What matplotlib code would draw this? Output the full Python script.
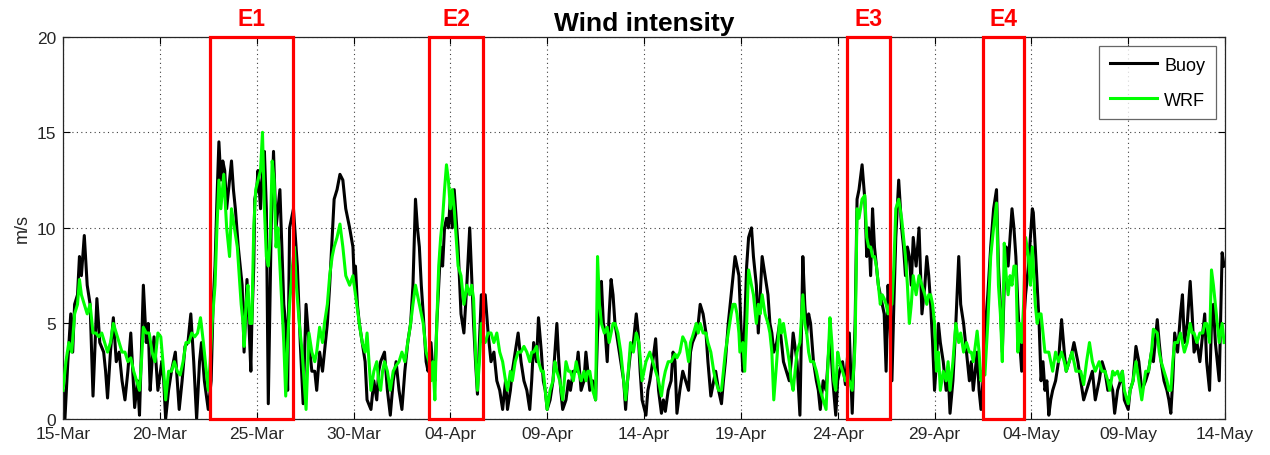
import matplotlib
matplotlib.use("Agg")
import matplotlib.pyplot as plt
from matplotlib.patches import Rectangle

plt.rcParams['font.family'] = ['Liberation Sans', 'DejaVu Sans']

# Time axis: days since 15-Mar
tick_days = [0, 5, 10, 15, 20, 25, 30, 35, 40, 45, 50, 55, 60]
tick_labels = ['15-Mar', '20-Mar', '25-Mar', '30-Mar', '04-Apr', '09-Apr', '14-Apr',
               '19-Apr', '24-Apr', '29-Apr', '04-May', '09-May', '14-May']

# Buoy observed wind speed (day, m/s)
buoy = [
    (0.0, 1.5), (0.1, 0.0), (0.25, 3), (0.4, 5.5), (0.5, 3.5), (0.6, 6), (0.75, 6.5), (0.85, 8.5),
    (0.95, 7.5), (1.1, 9.6), (1.25, 7), (1.4, 6), (1.55, 1.2), (1.7, 5), (1.75, 6.3), (1.9, 4),
    (2.1, 3.5), (2.2, 2.5), (2.3, 1.1), (2.45, 3.5), (2.6, 5.3), (2.75, 3), (2.9, 3.5), (3.05, 2),
    (3.2, 1), (3.35, 2.5), (3.5, 4.5), (3.6, 2.5), (3.7, 0.6), (3.85, 2), (3.95, 0.2), (4.15, 7),
    (4.3, 4), (4.4, 5), (4.5, 1.5), (4.6, 3), (4.7, 4.3), (4.8, 3), (4.9, 1.5), (5.1, 3),
    (5.2, 2), (5.3, 0), (5.45, 1.5), (5.6, 2.5), (5.8, 3.5), (5.9, 2), (6.0, 0.5), (6.15, 2),
    (6.3, 3.8), (6.45, 4), (6.6, 5.5), (6.75, 3), (6.9, 0), (7.05, 3), (7.15, 4), (7.3, 2),
    (7.5, 0.5), (7.65, 2), (7.75, 6), (7.85, 8), (7.95, 11.5), (8.05, 14.5), (8.15, 12.5),
    (8.25, 13.5), (8.35, 13), (8.45, 11), (8.6, 12.5), (8.7, 13.5), (8.8, 12), (8.9, 11),
    (9.05, 9), (9.15, 8), (9.25, 7), (9.35, 3.5), (9.5, 7.3), (9.6, 5), (9.7, 2.5), (9.75, 5),
    (9.85, 8), (9.9, 11.5), (10.0, 12), (10.07, 13), (10.2, 11), (10.3, 13), (10.4, 14),
    (10.5, 11), (10.6, 0.8), (10.7, 7), (10.75, 10), (10.87, 14), (11.0, 10), (11.1, 11),
    (11.2, 12), (11.3, 9), (11.4, 6), (11.5, 5), (11.6, 1.5), (11.7, 10), (11.8, 10.5),
    (11.9, 11), (12.0, 9.5), (12.1, 8), (12.25, 4), (12.4, 0.8), (12.55, 6), (12.7, 4),
    (12.85, 2.5), (13.0, 2.5), (13.1, 1.5), (13.25, 3.5), (13.4, 2.5), (13.5, 3.5), (13.65, 5),
    (13.77, 7), (13.9, 9.5), (14.0, 11.5), (14.15, 12), (14.3, 12.8), (14.45, 12.5), (14.6, 11),
    (14.7, 10.5), (14.8, 10), (14.97, 9), (15.05, 7), (15.1, 8), (15.2, 6), (15.3, 5),
    (15.45, 4), (15.6, 3), (15.7, 1), (15.9, 0.5), (16.05, 2), (16.2, 1), (16.3, 2.5), (16.4, 3),
    (16.6, 3.5), (16.75, 1.5), (16.9, 0.2), (17.05, 2), (17.2, 3), (17.35, 1.5), (17.5, 0.5),
    (17.65, 2.5), (17.8, 4), (17.95, 5), (18.07, 7), (18.2, 11.5), (18.3, 10), (18.4, 9),
    (18.5, 7), (18.6, 5.5), (18.75, 3), (18.85, 2.5), (19.0, 4), (19.1, 2.5), (19.2, 2),
    (19.3, 5), (19.4, 7), (19.5, 9), (19.6, 8), (19.7, 10), (19.8, 10.5), (19.9, 10),
    (20.0, 11.5), (20.1, 10), (20.2, 12), (20.3, 10.5), (20.4, 9), (20.55, 5.5), (20.7, 4.5),
    (20.85, 7), (21.0, 10), (21.1, 7.5), (21.2, 5), (21.3, 3), (21.4, 1.3), (21.5, 4),
    (21.6, 6.5), (21.8, 6.5), (21.95, 4.5), (22.1, 3), (22.25, 3.5), (22.4, 2), (22.55, 1.5),
    (22.7, 0.5), (22.85, 2), (22.95, 0.5), (23.1, 1.5), (23.2, 2.5), (23.35, 3.5), (23.5, 4.5),
    (23.65, 3), (23.8, 2), (23.95, 1.5), (24.1, 0.5), (24.2, 2), (24.3, 4), (24.45, 3),
    (24.55, 5.3), (24.7, 3.5), (24.8, 2), (24.9, 1.5), (25.0, 0.5), (25.15, 1), (25.3, 2),
    (25.4, 3.5), (25.5, 5), (25.6, 3), (25.7, 1.5), (25.8, 0.5), (25.97, 1), (26.1, 2),
    (26.2, 1.5), (26.35, 2.5), (26.5, 2.5), (26.6, 3.5), (26.75, 1.5), (26.9, 2), (27.0, 3.5),
    (27.1, 2.5), (27.2, 1.5), (27.35, 2), (27.5, 1), (27.6, 4.5), (27.7, 6), (27.8, 7.2),
    (27.9, 5), (28.0, 4.5), (28.1, 3), (28.2, 5.5), (28.3, 7.3), (28.4, 6.5), (28.5, 5),
    (28.65, 4), (28.8, 3), (28.95, 2), (29.05, 0.5), (29.15, 2), (29.3, 3.5), (29.45, 4),
    (29.6, 5.5), (29.7, 4.5), (29.8, 2.5), (29.9, 1), (30.1, 0.2), (30.2, 1.5), (30.3, 2),
    (30.45, 3), (30.6, 4.2), (30.75, 1.5), (30.9, 0.3), (31.0, 1), (31.1, 0.4), (31.25, 1.5),
    (31.4, 2), (31.5, 3.5), (31.6, 3), (31.7, 0.3), (31.85, 1.5), (32.0, 2.5), (32.15, 2),
    (32.3, 1.5), (32.4, 3.5), (32.5, 4), (32.7, 4.5), (32.8, 5), (32.9, 6), (33.05, 5.5),
    (33.2, 4.5), (33.3, 3), (33.45, 1.2), (33.6, 2), (33.7, 2.5), (33.85, 1.5), (34.0, 0.8),
    (34.1, 2), (34.2, 3), (34.35, 5), (34.5, 6.5), (34.6, 7.5), (34.7, 8.5), (34.8, 8),
    (34.9, 7.5), (35.0, 5), (35.1, 2.5), (35.2, 5), (35.3, 8), (35.4, 9.5), (35.55, 10),
    (35.65, 8.5), (35.8, 7), (35.9, 4.5), (36.0, 6.5), (36.1, 8.5), (36.25, 7.5), (36.4, 6.5),
    (36.5, 5), (36.6, 4.5), (36.7, 3.5), (36.85, 4), (37.0, 5), (37.1, 4), (37.2, 3),
    (37.35, 2.5), (37.5, 2), (37.6, 3), (37.7, 4.5), (37.9, 3), (38.05, 0.2), (38.2, 8.5),
    (38.3, 6), (38.4, 4.5), (38.5, 5.5), (38.6, 5), (38.75, 3), (38.9, 2), (39.0, 1.5),
    (39.1, 0.5), (39.25, 2), (39.4, 1.5), (39.5, 3), (39.6, 4.5), (39.75, 2), (39.9, 0.2),
    (40.0, 2), (40.1, 2.5), (40.25, 3), (40.4, 1.8), (40.6, 4.5), (40.75, 0.3), (40.9, 5),
    (41.0, 11.5), (41.1, 12), (41.26, 13.3), (41.4, 11.5), (41.5, 8.5), (41.6, 10), (41.7, 7.5),
    (41.8, 11), (41.9, 9), (42.0, 8), (42.1, 7), (42.2, 6.5), (42.3, 6), (42.4, 5.5),
    (42.5, 2.5), (42.6, 7), (42.7, 5), (42.8, 2), (42.9, 6), (43.0, 9.5), (43.15, 12.5),
    (43.3, 10), (43.4, 9), (43.5, 7.5), (43.6, 9), (43.7, 8.5), (43.8, 7), (43.9, 9.5),
    (44.05, 8), (44.2, 10), (44.35, 5.5), (44.5, 7), (44.6, 8.5), (44.7, 7.5), (44.8, 6),
    (44.9, 4), (45.0, 1.5), (45.1, 3), (45.2, 5), (45.3, 4), (45.45, 3), (45.6, 1.5),
    (45.7, 2.5), (45.8, 0.3), (45.95, 2), (46.1, 5), (46.25, 8.5), (46.35, 6), (46.5, 5),
    (46.65, 3.5), (46.8, 2), (46.9, 3), (47.0, 1.5), (47.2, 3.5), (47.3, 1.5), (47.4, 0.5),
    (47.5, 2), (47.6, 4.5), (47.75, 6.5), (47.9, 9), (48.05, 11), (48.2, 12), (48.3, 8),
    (48.4, 6), (48.5, 3.5), (48.6, 7), (48.7, 9), (48.8, 8), (48.9, 9.5), (49.0, 11),
    (49.1, 10), (49.2, 8.5), (49.3, 6), (49.4, 4), (49.5, 2.5), (49.6, 5), (49.7, 6.5),
    (49.85, 8), (49.95, 9.5), (50.05, 11), (50.1, 10.8), (50.2, 9), (50.3, 7), (50.4, 5),
    (50.5, 2), (50.6, 3), (50.7, 1.5), (50.8, 2), (50.9, 0.2), (51.0, 1), (51.1, 1.5),
    (51.25, 2), (51.4, 3), (51.56, 5.2), (51.7, 3.5), (51.8, 2.5), (51.95, 3), (52.1, 3.5),
    (52.2, 4), (52.3, 3.5), (52.4, 3), (52.55, 2), (52.7, 1), (52.85, 1.5), (53.0, 2),
    (53.15, 2.5), (53.3, 1), (53.5, 2), (53.65, 3), (53.8, 2.5), (53.95, 1.5), (54.05, 2),
    (54.2, 1.5), (54.3, 0.3), (54.45, 1.5), (54.6, 2), (54.7, 2.5), (54.8, 1), (55.0, 0.5),
    (55.1, 1.5), (55.25, 2), (55.4, 3.8), (55.55, 3), (55.7, 1.5), (55.9, 2), (56.05, 2.5),
    (56.2, 3.5), (56.3, 3), (56.5, 5.2), (56.6, 4), (56.7, 3), (56.85, 2), (57.0, 1.5),
    (57.1, 1), (57.2, 0.3), (57.3, 2), (57.4, 4.5), (57.55, 3.5), (57.7, 5.5), (57.8, 6.5),
    (57.9, 4), (58.05, 5), (58.2, 7.2), (58.3, 5.5), (58.4, 3.5), (58.55, 4), (58.7, 3),
    (58.85, 4.5), (58.95, 5.5), (59.05, 3), (59.2, 1.5), (59.3, 5), (59.4, 6), (59.5, 4),
    (59.6, 3), (59.7, 2), (59.85, 8.7), (59.95, 8),
]

# WRF modelled wind speed (day, m/s)
wrf = [
    (0.0, 1.5), (0.15, 3), (0.3, 4), (0.45, 3.5), (0.6, 5.5), (0.75, 6), (0.85, 7.3), (0.95, 6.5),
    (1.1, 6), (1.25, 5.5), (1.4, 6), (1.55, 4.5), (1.7, 4.5), (1.85, 4.3), (2.0, 4.5), (2.15, 4),
    (2.3, 3.5), (2.45, 4), (2.6, 5), (2.75, 4.5), (2.9, 4), (3.05, 3.5), (3.2, 3.5), (3.35, 3),
    (3.5, 3.2), (3.65, 2.5), (3.8, 2), (3.95, 1.5), (4.05, 3), (4.15, 4.8), (4.3, 4.5),
    (4.45, 4.5), (4.6, 3.5), (4.75, 3), (4.9, 4.5), (5.05, 4.3), (5.2, 2.5), (5.3, 1),
    (5.45, 2.5), (5.6, 2.5), (5.75, 3), (5.9, 2.5), (6.05, 2.3), (6.2, 3), (6.35, 4), (6.5, 4),
    (6.65, 4.5), (6.8, 4.3), (6.95, 4.5), (7.1, 5.3), (7.25, 4), (7.35, 3), (7.5, 1.5),
    (7.6, 3), (7.7, 5), (7.85, 7), (7.95, 10), (8.05, 12.5), (8.15, 11), (8.3, 12.8),
    (8.45, 10), (8.6, 8.5), (8.7, 11), (8.85, 10), (9.0, 9), (9.1, 7.5), (9.2, 6), (9.3, 5),
    (9.35, 3.8), (9.45, 6), (9.55, 7), (9.65, 5), (9.75, 5), (9.85, 10), (9.95, 12),
    (10.07, 12.5), (10.2, 13), (10.3, 15), (10.4, 11), (10.5, 8.5), (10.6, 8), (10.7, 9.5),
    (10.8, 13.5), (10.9, 12.5), (11.0, 9), (11.1, 10), (11.2, 8), (11.3, 6), (11.4, 4),
    (11.5, 1.2), (11.6, 4), (11.7, 6), (11.85, 8), (11.95, 9), (12.05, 7), (12.2, 5),
    (12.35, 3.5), (12.45, 2), (12.55, 0.5), (12.7, 4.5), (12.85, 3.5), (13.0, 3), (13.1, 3.5),
    (13.25, 4.8), (13.4, 4), (13.5, 5), (13.65, 6), (13.77, 7.5), (13.9, 8.5), (14.0, 9),
    (14.15, 9.5), (14.3, 10.2), (14.45, 9), (14.6, 7.5), (14.8, 7), (14.97, 7.5), (15.1, 6.5),
    (15.3, 5), (15.45, 4), (15.6, 3.5), (15.7, 4.5), (15.8, 3), (15.9, 1.5), (16.05, 2.5),
    (16.2, 3), (16.3, 2), (16.4, 1.5), (16.5, 2.5), (16.6, 3), (16.75, 2.5), (16.9, 1.5),
    (17.05, 2.5), (17.2, 2.8), (17.35, 3), (17.5, 3.5), (17.65, 3), (17.8, 4), (17.95, 5),
    (18.07, 6), (18.2, 7), (18.3, 6.5), (18.4, 6), (18.5, 5.5), (18.6, 5), (18.75, 3.5),
    (18.9, 3), (19.0, 2), (19.1, 3), (19.2, 1), (19.3, 5), (19.4, 8), (19.5, 9.5),
    (19.6, 10.5), (19.7, 12), (19.8, 13.3), (19.9, 12.5), (20.0, 11), (20.1, 12), (20.2, 11),
    (20.3, 9.5), (20.4, 8), (20.55, 7.5), (20.7, 6), (20.85, 7), (21.0, 6.5), (21.1, 7),
    (21.2, 6.3), (21.3, 3.5), (21.4, 1.5), (21.5, 3), (21.6, 5), (21.7, 4), (21.8, 4),
    (21.95, 4.5), (22.1, 4.5), (22.25, 4), (22.4, 4.5), (22.55, 3.5), (22.7, 3), (22.85, 2),
    (22.95, 1.5), (23.1, 2.5), (23.2, 2), (23.35, 3), (23.5, 3.5), (23.65, 3.5), (23.8, 3.8),
    (23.95, 3.5), (24.1, 3), (24.2, 3.5), (24.3, 3.5), (24.45, 3.8), (24.55, 3), (24.7, 2.5),
    (24.8, 2.5), (24.9, 1.5), (25.0, 0.5), (25.15, 1.5), (25.3, 2), (25.4, 3), (25.5, 2.5),
    (25.65, 2), (25.8, 1), (25.97, 3), (26.1, 2.5), (26.2, 2.5), (26.35, 2), (26.5, 3),
    (26.6, 2.5), (26.75, 2), (26.9, 2.5), (27.0, 2), (27.1, 2.5), (27.2, 2.5), (27.35, 1.5),
    (27.5, 1), (27.6, 8.5), (27.7, 6), (27.8, 5), (27.95, 4.5), (28.1, 4.8), (28.2, 4),
    (28.3, 4.5), (28.4, 5), (28.5, 5), (28.65, 4.5), (28.8, 3.5), (28.95, 2), (29.05, 1),
    (29.15, 2), (29.3, 4), (29.45, 3.5), (29.6, 4.5), (29.74, 4), (29.9, 2), (30.1, 3),
    (30.3, 3.5), (30.45, 3), (30.6, 2.5), (30.75, 2), (30.9, 1.2), (31.0, 2), (31.1, 2.5),
    (31.25, 3), (31.4, 3), (31.6, 3.4), (31.7, 3.2), (31.85, 3.5), (32.0, 4.3), (32.15, 4),
    (32.3, 3), (32.4, 4), (32.5, 4.3), (32.7, 5), (32.8, 4.5), (32.9, 5), (33.05, 4.5),
    (33.2, 4.5), (33.3, 4), (33.45, 3.5), (33.6, 2.5), (33.7, 2), (33.85, 1.5), (34.0, 1.5),
    (34.1, 2.5), (34.2, 3.5), (34.35, 4.5), (34.5, 5.5), (34.6, 6), (34.7, 6), (34.8, 5.5),
    (34.9, 4.5), (34.95, 3.5), (35.1, 4), (35.2, 2.5), (35.3, 5), (35.4, 7.8), (35.55, 7),
    (35.65, 6.5), (35.8, 5), (35.9, 6), (36.0, 5.5), (36.1, 6.5), (36.25, 5.5), (36.4, 5),
    (36.5, 4.5), (36.6, 3.5), (36.7, 1), (36.85, 3), (37.0, 5.2), (37.1, 4.5), (37.2, 5),
    (37.35, 4), (37.5, 3), (37.6, 2), (37.7, 1.5), (37.9, 3.5), (38.05, 4), (38.2, 6.5),
    (38.3, 5), (38.4, 4.5), (38.5, 3.5), (38.6, 3), (38.75, 3), (38.9, 2.5), (39.0, 2),
    (39.1, 1.5), (39.25, 1), (39.4, 0.5), (39.5, 3), (39.6, 5.3), (39.7, 4), (39.8, 2),
    (39.9, 1.5), (40.0, 3.5), (40.1, 3), (40.25, 2.5), (40.4, 2), (40.6, 2), (40.75, 1.5),
    (40.85, 3), (40.9, 4), (41.0, 11), (41.1, 10.5), (41.26, 11.5), (41.4, 11.7), (41.5, 9.5),
    (41.6, 9), (41.7, 9), (41.8, 8.5), (41.9, 8.5), (42.0, 8), (42.1, 7), (42.2, 6),
    (42.3, 6.5), (42.4, 6.3), (42.5, 6), (42.6, 5.5), (42.7, 6), (42.8, 6), (42.9, 8),
    (43.0, 11), (43.15, 11.5), (43.3, 10.5), (43.4, 9.5), (43.5, 8.5), (43.6, 7), (43.7, 5),
    (43.8, 6), (43.9, 7.5), (44.05, 6.5), (44.2, 7.5), (44.35, 7), (44.5, 6.5), (44.6, 6),
    (44.7, 6.5), (44.8, 6.5), (44.9, 6), (45.0, 5), (45.1, 2.5), (45.2, 3.5), (45.3, 1.5),
    (45.45, 2.5), (45.6, 2), (45.7, 3), (45.8, 1.5), (45.95, 3), (46.1, 5), (46.25, 4),
    (46.35, 4.5), (46.5, 3.5), (46.65, 4), (46.8, 3.5), (46.9, 3.5), (47.0, 3), (47.2, 4.6),
    (47.3, 3.5), (47.4, 2), (47.5, 2.5), (47.6, 2.3), (47.75, 5), (47.9, 8.5), (48.05, 10),
    (48.2, 11.3), (48.3, 7), (48.4, 5.5), (48.5, 3), (48.6, 9.2), (48.7, 7.5), (48.8, 6.5),
    (48.9, 7.5), (49.0, 7), (49.1, 8), (49.2, 8), (49.3, 3.5), (49.4, 5), (49.5, 4),
    (49.6, 6), (49.7, 9.5), (49.85, 8.5), (49.95, 7), (50.05, 9), (50.2, 6), (50.3, 5),
    (50.4, 5.5), (50.5, 5.5), (50.6, 4.5), (50.7, 3.5), (50.8, 3.5), (50.9, 3.5), (51.0, 3),
    (51.1, 2.5), (51.25, 3.5), (51.4, 3), (51.56, 3.5), (51.7, 3), (51.8, 2.5), (51.95, 3),
    (52.1, 3.5), (52.2, 3), (52.3, 2.5), (52.4, 2.5), (52.55, 2.5), (52.7, 1.8), (52.85, 3),
    (53.0, 4), (53.15, 3), (53.3, 2.5), (53.5, 3), (53.65, 2.5), (53.8, 2.5), (53.95, 2),
    (54.05, 1.5), (54.2, 2.5), (54.3, 2.3), (54.45, 2.5), (54.6, 2), (54.7, 2.5), (54.8, 1.5),
    (55.0, 0.8), (55.1, 1.5), (55.25, 2), (55.4, 3), (55.55, 2), (55.7, 1), (55.9, 2.5),
    (56.05, 2.5), (56.2, 3.5), (56.3, 4.7), (56.5, 4.5), (56.6, 3.5), (56.7, 3), (56.85, 2.5),
    (57.0, 2), (57.1, 1.5), (57.2, 1.5), (57.3, 3), (57.4, 4), (57.55, 4), (57.7, 4.5),
    (57.8, 4), (57.9, 3.5), (58.05, 4), (58.2, 5), (58.3, 4.5), (58.4, 4.5), (58.55, 4),
    (58.7, 4.5), (58.85, 4.5), (58.95, 5), (59.05, 5), (59.2, 4), (59.3, 7.8), (59.4, 7),
    (59.5, 6), (59.6, 5), (59.7, 4), (59.85, 5), (59.95, 4),
]

# Storm events (start day, end day, label)
event_names = ['E1', 'E2', 'E3', 'E4']
event_start = [7.58, 18.9, 40.5, 47.5]
event_end = [11.9, 21.7, 42.7, 49.6]

fig = plt.figure(figsize=(12.7, 4.56), dpi=100)
ax = fig.add_axes([0.0496, 0.0789, 0.9150, 0.8384])

bx, by = zip(*buoy)
wx, wy = zip(*wrf)
ax.plot(bx, by, color='black', lw=2.2, label='Buoy', zorder=2)
ax.plot(wx, wy, color='#00ff00', lw=2.2, label='WRF', zorder=3)

ax.set_xlim(0, 60)
ax.set_ylim(0, 20)
ax.set_xticks(tick_days)
ax.set_xticklabels(tick_labels)
ax.set_yticks([0, 5, 10, 15, 20])
ax.tick_params(direction='in', length=5, width=0.8, top=True, right=True,
               labelsize=12.5, labelcolor='#262626', pad=5)
ax.grid(True, color='#404040', linestyle=(0, (1, 3)), linewidth=0.8)
for s in ax.spines.values():
    s.set_linewidth(0.9)
    s.set_color('#262626')

ax.set_ylabel('m/s', fontsize=13, color='#262626', labelpad=4)
ax.set_title('Wind intensity', fontsize=19, fontweight='bold', pad=5)

for name, x0, x1 in zip(event_names, event_start, event_end):
    ax.add_patch(Rectangle((x0, 0), x1 - x0, 20, fill=False, edgecolor='red',
                           linewidth=2.3, clip_on=False, zorder=5))
    ax.text((x0 + x1) / 2, 20.35, name, color='red', fontsize=16.5, fontweight='bold',
            ha='center', va='bottom')

leg = ax.legend(loc='upper right', fontsize=13, frameon=True, fancybox=False,
                borderaxespad=0.5, handlelength=2.6, handletextpad=0.4,
                borderpad=0.6, labelspacing=1.0)
leg.get_frame().set_edgecolor('#404040')
leg.get_frame().set_linewidth(0.9)
leg.set_zorder(6)

fig.savefig('out.png', dpi=100)
